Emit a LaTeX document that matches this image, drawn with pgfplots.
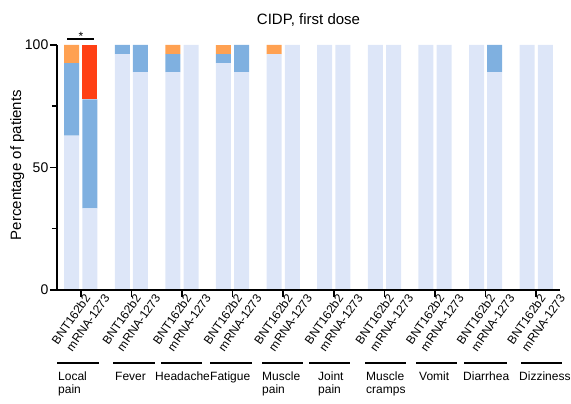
\documentclass[border=0pt]{standalone}
\usepackage{pgfplots}
\pgfplotsset{compat=1.18}
\usepackage{fontspec}
\setmainfont{Liberation Sans}
\definecolor{clight}{RGB}{221,230,248}
\definecolor{cblue}{RGB}{127,176,224}
\definecolor{corange}{RGB}{255,161,82}
\definecolor{cred}{RGB}{255,64,20}
\begin{document}
\begin{tikzpicture}
\useasboundingbox (0,0) rectangle (571bp,404bp);
\begin{axis}[
  at={(57bp,114bp)}, anchor=south west,
  scale only axis, width=503bp, height=245bp,
  xmin=-0.47, xmax=9.47, ymin=0, ymax=100,
  axis lines=left, axis line style={-, line width=2bp},
  axis on top,
  ybar stacked, bar width=15bp, bar shift=0pt,
  ytick={0,50,100}, minor ytick={25,75},
  tick align=outside, major tick length=7bp, minor tick length=5bp,
  tick style={line width=1.5bp, black},
  xtick={0,...,9}, xticklabels={},
  extra x ticks={-0.01,0.38,0.99,1.38,1.99,2.38,2.99,3.38,3.99,4.38,4.99,5.38,5.99,6.38,6.99,7.38,7.99,8.38,8.99,9.38},
  extra x tick labels={BNT162b2,mRNA-1273,BNT162b2,mRNA-1273,BNT162b2,mRNA-1273,BNT162b2,mRNA-1273,BNT162b2,mRNA-1273,BNT162b2,mRNA-1273,BNT162b2,mRNA-1273,BNT162b2,mRNA-1273,BNT162b2,mRNA-1273,BNT162b2,mRNA-1273},
  extra x tick style={major tick length=0pt, xticklabel style={rotate=55, anchor=north east, inner sep=0.5bp, yshift=-4bp, font=\fontsize{12bp}{14bp}\selectfont}},
  yticklabel style={font=\fontsize{14bp}{16bp}\selectfont, inner sep=1.5bp},
  /pgf/number format/assume math mode=true,
  ylabel={Percentage of patients},
  ylabel style={at={(axis description cs:-0.079,0.51)}, anchor=center, font=\fontsize{15bp}{17bp}\selectfont},
  title={CIDP, first dose},
  title style={at={(axis description cs:0.5,1.06)}, anchor=base, font=\fontsize{15bp}{17bp}\selectfont},
  clip=false,
]
\addplot[fill=clight, draw=none] coordinates {(-0.18,62.96)(0.18,33.33)(0.82,96.3)(1.18,88.89)(1.82,88.89)(2.18,100)(2.82,92.59)(3.18,88.89)(3.82,96.3)(4.18,100)(4.82,100)(5.18,100)(5.82,100)(6.18,100)(6.82,100)(7.18,100)(7.82,100)(8.18,88.89)(8.82,100)(9.18,100)};
\addplot[fill=cblue, draw=none] coordinates {(-0.18,29.63)(0.18,44.44)(0.82,3.7)(1.18,11.11)(1.82,7.41)(2.18,0)(2.82,3.7)(3.18,11.11)(3.82,0)(4.18,0)(4.82,0)(5.18,0)(5.82,0)(6.18,0)(6.82,0)(7.18,0)(7.82,0)(8.18,11.11)(8.82,0)(9.18,0)};
\addplot[fill=corange, draw=none] coordinates {(-0.18,7.41)(0.18,0)(0.82,0)(1.18,0)(1.82,3.7)(2.18,0)(2.82,3.7)(3.18,0)(3.82,3.7)(4.18,0)(4.82,0)(5.18,0)(5.82,0)(6.18,0)(6.82,0)(7.18,0)(7.82,0)(8.18,0)(8.82,0)(9.18,0)};
\addplot[fill=cred, draw=none] coordinates {(-0.18,0)(0.18,22.22)(0.82,0)(1.18,0)(1.82,0)(2.18,0)(2.82,0)(3.18,0)(3.82,0)(4.18,0)(4.82,0)(5.18,0)(5.82,0)(6.18,0)(6.82,0)(7.18,0)(7.82,0)(8.18,0)(8.82,0)(9.18,0)};
\end{axis}
% significance bracket
\draw[line width=2bp] (67bp,365bp) -- (94bp,365bp);
\node[font=\fontsize{12bp}{14bp}\selectfont, inner sep=0pt] at (81bp,368bp) {*};
% group lines
\foreach \a/\b in {57/99,113/155,161/202,210/252,262/303,309/350,365/406,416/457,464/507,521/562}{
  \draw[line width=2bp] (\a bp,41.3bp) -- (\b bp,41.3bp);
}
\begin{scope}[every node/.style={anchor=base west, inner sep=0pt, font=\fontsize{12bp}{13bp}\selectfont}]
\node at (58bp,24bp) {Local};
\node at (58bp,11bp) {pain};
\node at (115bp,24bp) {Fever};
\node at (155bp,24bp) {Headache};
\node at (210bp,24bp) {Fatigue};
\node at (262bp,24bp) {Muscle};
\node at (262bp,11bp) {pain};
\node at (318bp,24bp) {Joint};
\node at (318bp,11bp) {pain};
\node at (366bp,24bp) {Muscle};
\node at (366bp,11bp) {cramps};
\node at (419bp,24bp) {Vomit};
\node at (463bp,24bp) {Diarrhea};
\node at (519bp,24bp) {Dizziness};
\end{scope}
\end{tikzpicture}
\end{document}
